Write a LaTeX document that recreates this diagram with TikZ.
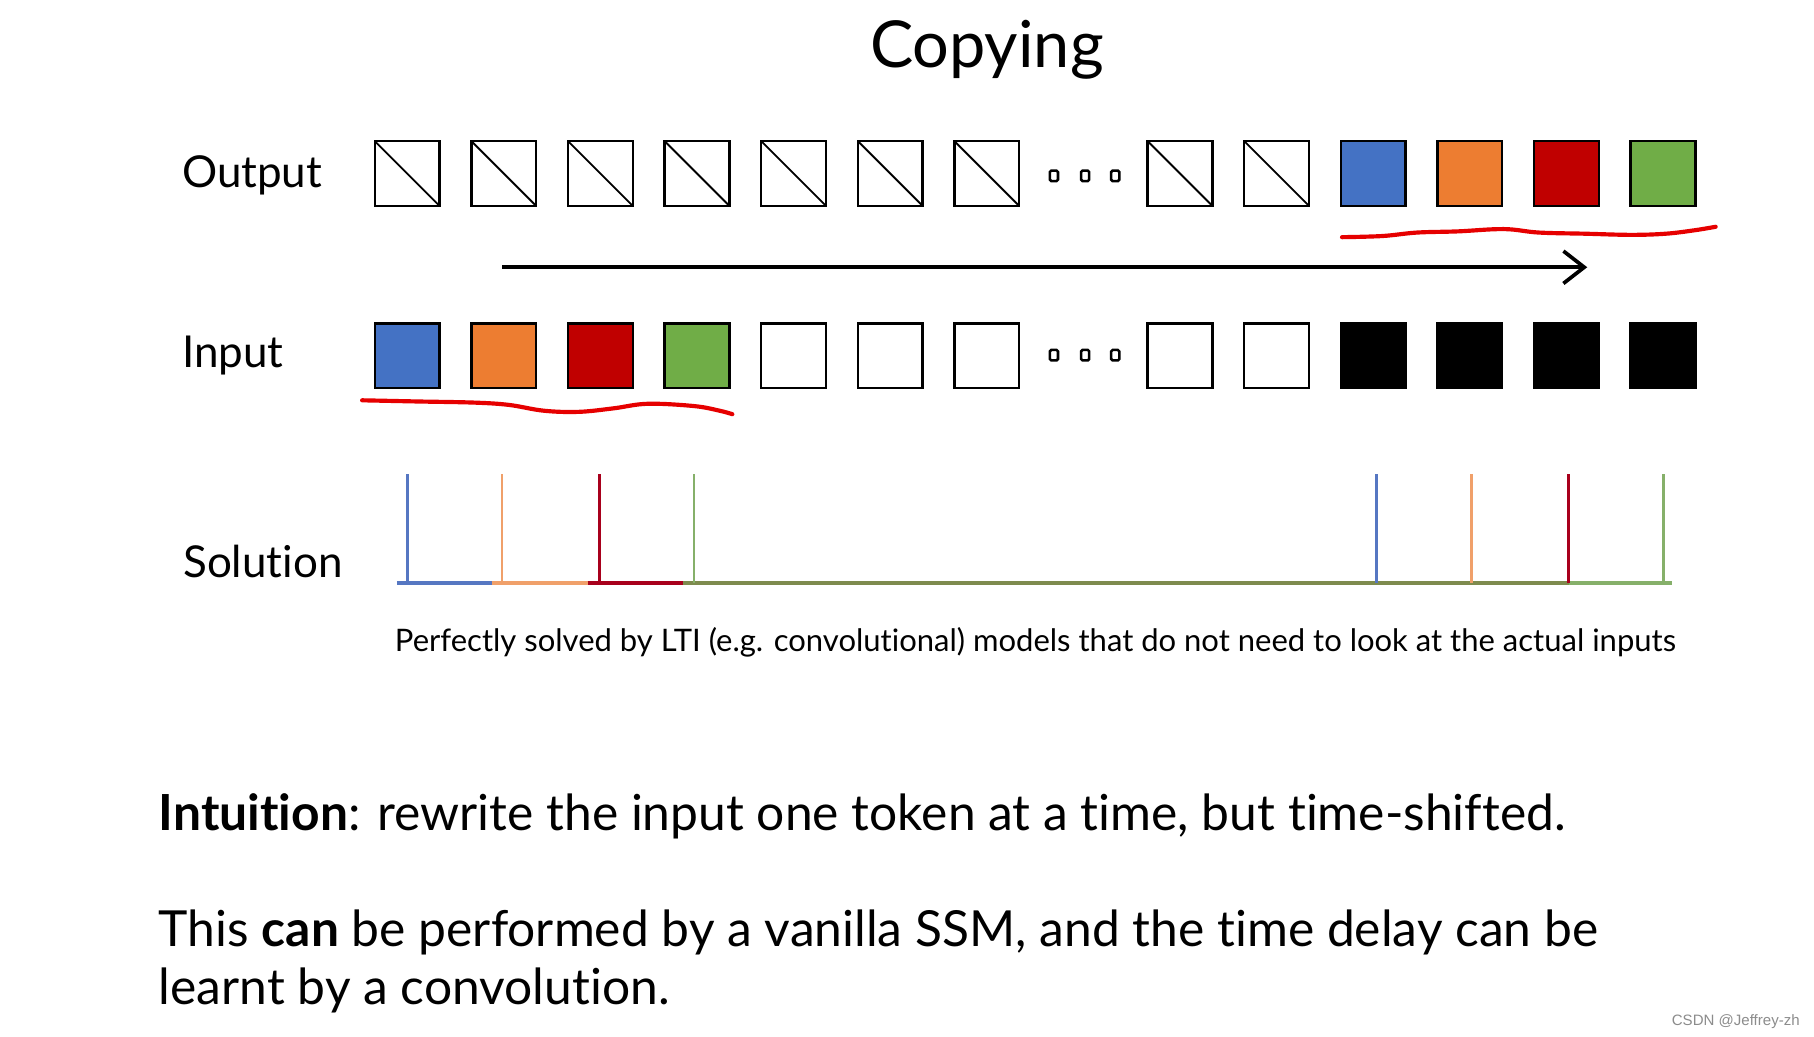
\documentclass[tikz,border=0pt]{standalone}
\usepackage{fontspec}
\setmainfont{Lato}[Ligatures=NoCommon]
\newfontfamily\wmfont{Liberation Sans}
\usetikzlibrary{arrows.meta}
\definecolor{cblue}{HTML}{4472C4}
\definecolor{corange}{HTML}{ED7D31}
\definecolor{cred}{HTML}{C00000}
\definecolor{cgreen}{HTML}{70AD47}
\definecolor{lblue}{HTML}{5677C2}
\definecolor{lorange}{HTML}{F0A06A}
\definecolor{lred}{HTML}{A8001C}
\definecolor{lgreen}{HTML}{86B06A}
\definecolor{lolive}{HTML}{7E8B4E}
\definecolor{pen}{HTML}{E60000}
\begin{document}
\begin{tikzpicture}[x=0.5pt,y=-0.5pt,
  tok/.style={draw=black,line width=1pt,minimum width=28pt,minimum height=28pt,inner sep=0pt,outer sep=0pt},
  crossed/.style={tok,path picture={\draw[line width=0.8pt] (path picture bounding box.north west) -- (path picture bounding box.south east);}},
  dotbox/.style={draw=black,line width=1.1pt,minimum width=3.5pt,minimum height=4.5pt,inner sep=0pt,rounded corners=0.6pt},
  rowlabel/.style={anchor=base west,font=\fontsize{19pt}{23pt}\selectfont,inner sep=0pt},
  spike/.style={line width=1.1pt},
  base/.style={line width=1.6pt},
  ink/.style={draw=pen,line width=1.8pt,line cap=round,line join=round},
  body/.style={anchor=base west,inner sep=0pt,font=\fontsize{21.5pt}{26pt}\selectfont}
]
\useasboundingbox[fill=white] (0,0) rectangle (1568,896);

% title
\node[anchor=base,inner sep=0pt,font=\fontsize{28pt}{32pt}\selectfont] (title) at (853,58) {Copying};

% labels
\node[rowlabel] (lout) at (157,162) {Output};
\node[rowlabel] (lin) at (157,318) {Input};
\node[rowlabel] (lsol) at (158,499) {Solution};

% output row
\foreach \k in {0,...,6,8,9}{
  \node[crossed] (o\k) at ({352+83.5*\k},150) {};
}
\node[tok,fill=cblue] (o10) at ({352+83.5*10},150) {};
\node[tok,fill=corange] (o11) at ({352+83.5*11},150) {};
\node[tok,fill=cred] (o12) at ({352+83.5*12},150) {};
\node[tok,fill=cgreen] (o13) at ({352+83.5*13},150) {};
\node[dotbox] (od1) at (911,152) {};
\node[dotbox] (od2) at (938,152) {};
\node[dotbox] (od3) at (964,152) {};

% input row
\node[tok,fill=cblue] (i0) at (352,307.5) {};
\node[tok,fill=corange] (i1) at ({352+83.5},307.5) {};
\node[tok,fill=cred] (i2) at ({352+83.5*2},307.5) {};
\node[tok,fill=cgreen] (i3) at ({352+83.5*3},307.5) {};
\foreach \k in {4,5,6,8,9}{
  \node[tok] (i\k) at ({352+83.5*\k},307.5) {};
}
\foreach \k in {10,...,13}{
  \node[tok,fill=black] (i\k) at ({352+83.5*\k},307.5) {};
}
\node[dotbox] (id1) at (911,307) {};
\node[dotbox] (id2) at (938,307) {};
\node[dotbox] (id3) at (964,307) {};

% time arrow
\coordinate (as) at (434,231);
\coordinate (ae) at (1372,231);
\draw[line width=1.6pt,-{Straight Barb[length=9pt,width=14pt,line width=1.6pt]}] (as) -- (ae);

% red hand-drawn underlines
\draw[ink] plot[smooth,tension=0.6] coordinates {(1160,205) (1195,204) (1225,201) (1260,200) (1300,198) (1330,201) (1370,202) (1410,203) (1440,202) (1465,199) (1483,196)};
\draw[ink] plot[smooth,tension=0.6] coordinates {(313,346) (360,347) (410,348) (440,350) (470,355) (500,356) (530,353) (560,349) (600,351) (622,355) (633,358)};

% solution plot
\draw[base,draw=lolive] (590,504) -- (1356,504);
\draw[base,draw=lgreen] (1356,504) -- (1445,504);
\draw[base,draw=lblue] (343,504) -- (425,504);
\draw[base,draw=lorange] (425,504) -- (508,504);
\draw[base,draw=lred] (508,504) -- (590,504);
\foreach \xx/\cc in {352/lblue,434/lorange,518/lred,600/lgreen,1190/lblue,1272/lorange,1356/lred,1438/lgreen}{
  \draw[spike,draw=\cc] (\xx,410) -- (\xx,504);
}

% caption
\node[anchor=base west,inner sep=0pt,font=\fontsize{13.4pt}{16pt}\selectfont] (cap) at (341,563) {Perfectly solved by LTI (e.g. convolutional) models that do not need to look at the actual inputs};

% bottom text
\node[body] (t1) at (137,718) {\textbf{Intuition}: rewrite the input one token at a time, but time-shifted.};
\node[body] (t2) at (137,818) {This \textbf{can} be performed by a vanilla SSM, and the time delay can be};
\node[body] (t3) at (137,868) {learnt by a convolution.};

% watermark
\node[anchor=base east,inner sep=0pt,text=black!45,font=\wmfont\fontsize{6.5pt}{8pt}\selectfont] (wm) at (1556,886) {CSDN @Jeffrey-zh};
\end{tikzpicture}
\end{document}
